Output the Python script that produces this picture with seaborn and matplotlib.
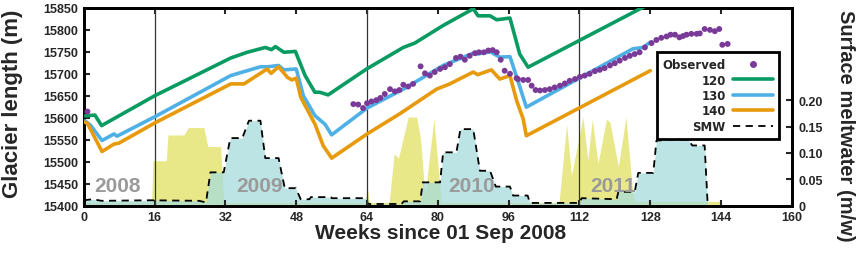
import numpy as np
import pandas as pd
import matplotlib
matplotlib.use("Agg")
import matplotlib.pyplot as plt
import seaborn as sns
from matplotlib.lines import Line2D

# --- modelled glacier length (m), three friction settings ---
wk_120 = [0.2, 2.5, 4, 16, 33.2, 36.9, 41, 42.4, 43.3, 45.2, 47.8, 50, 52.2, 53.3, 55.2,
          63.9, 72.2, 74.8, 81.2, 88, 89.1, 91.8, 93.3, 96.3, 98.5, 100.4, 125.7, 128]
len_120 = [15604, 15606, 15582, 15650, 15736, 15749, 15760, 15755, 15762, 15749, 15751, 15696,
           15658, 15658, 15652, 15711, 15760, 15770, 15810, 15848, 15832, 15832, 15823, 15827,
           15745, 15715, 15848, 15860]

wk_130 = [0.2, 1.5, 4.1, 6.8, 7.5, 16, 33.2, 39.9, 41.6, 44, 45.2, 48, 49.6, 52.2, 54.5, 56,
          64, 72.2, 81.2, 88, 88.9, 91.8, 94, 96.3, 98.1, 100, 124.1, 126.4, 128]
len_130 = [15593, 15583, 15548, 15563, 15558, 15602, 15696, 15716, 15716, 15719, 15709, 15711,
           15650, 15605, 15585, 15561, 15622, 15665, 15719, 15747, 15745, 15750, 15738, 15739,
           15684, 15624, 15757, 15760, 15772]

wk_140 = [0.2, 0.8, 4.1, 6.8, 7.9, 16, 33.2, 36.2, 41.4, 42.3, 44, 46, 47, 48, 49, 52.2, 54.1,
          56, 64, 71.4, 79.7, 82.7, 88, 89, 92.1, 94, 96.3, 97.8, 99.3, 100, 128]
len_140 = [15590, 15587, 15523, 15540, 15542, 15588, 15677, 15677, 15711, 15701, 15716, 15692,
           15686, 15690, 15647, 15586, 15536, 15508, 15563, 15609, 15665, 15677, 15704, 15698,
           15709, 15688, 15696, 15639, 15597, 15559, 15707]

# --- observed terminus positions ---
obs_wk = [0.8, 60.9, 62.0, 63.1, 64.0, 65.0, 66.1, 67.0, 68.0, 69.2, 70.3, 71.3, 72.2, 73.3,
          74.4, 76.1, 77.1, 78.2, 79.3, 80.5, 81.6, 82.7, 84.1, 85.1, 86.1, 87.2, 88.4, 89.3,
          90.4, 91.4, 92.4, 93.3, 94.2, 95.1, 96.3, 97.8, 98.1, 99.3, 100.4, 101.2, 102.1,
          103.1, 104.2, 105.3, 106.4, 107.6, 108.7, 109.8, 111.0, 112.1, 113.2, 114.3, 115.5,
          116.6, 117.7, 118.9, 120.0, 121.1, 122.3, 123.4, 124.5, 125.6, 126.8, 128.3, 129.4,
          130.5, 131.7, 132.6, 133.6, 134.6, 135.4, 136.2, 137.3, 138.5, 139.2, 140.3, 141.5,
          142.6, 143.6, 144.3, 145.5]
obs_len = [15614, 15631, 15630, 15622, 15633, 15637, 15640, 15645, 15654, 15665, 15660, 15663,
           15675, 15671, 15677, 15717, 15701, 15696, 15704, 15711, 15715, 15722, 15736, 15739,
           15732, 15741, 15747, 15749, 15749, 15753, 15754, 15749, 15732, 15707, 15700, 15690,
           15688, 15686, 15686, 15673, 15663, 15662, 15663, 15665, 15669, 15673, 15678, 15684,
           15688, 15693, 15696, 15700, 15706, 15709, 15713, 15719, 15724, 15730, 15736, 15741,
           15745, 15749, 15760, 15770, 15777, 15782, 15785, 15789, 15789, 15783, 15786, 15789,
           15791, 15791, 15792, 15802, 15800, 15797, 15802, 15766, 15768]

# --- yellow series (right axis, m/w) ---
yel_wk = [0, 15.3, 15.6, 18.6, 19.0, 22.6, 23.6, 27.1, 28.0, 30.9, 31.6, 63.6, 64.0, 64.5,
          69.0, 70.1, 71.1, 73.3, 75.2, 76.1, 77.1, 79.1, 80.8, 107.4, 109.1, 110.2, 112.8,
          113.9, 114.9, 116.2, 118.1, 118.9, 120.8, 122.5, 124.1, 124.6, 143.7, 144]
yel_val = [0.006, 0.006, 0.085, 0.085, 0.134, 0.134, 0.148, 0.148, 0.112, 0.112, 0.006,
           0.006, 0.038, 0.006, 0.006, 0.098, 0.090, 0.168, 0.168, 0.126, 0.019, 0.164,
           0.006, 0.006, 0.155, 0.057, 0.168, 0.087, 0.164, 0.080, 0.164, 0.158, 0.074,
           0.168, 0.020, 0.008, 0.008, 0.0]

# --- surface meltwater SMW (right axis, m/w) ---
smw_wk = [0, 2, 4, 15, 26, 27.6, 28.6, 31.6, 33.1, 35.8, 37.3, 39.9, 41, 44, 45.4, 47.9, 49,
          51, 51.3, 55.8, 56, 63.8, 64.2, 71.8, 72.3, 76, 76.6, 80.5, 81.2, 84.2, 85.1, 88,
          89.5, 91.8, 93.1, 96.3, 97, 100.3, 100.8, 112, 112.5, 120.4, 120.8, 124.5, 125.3,
          128.7, 129.4, 132, 136.6, 137.5, 140.3, 141]
smw_val = [0.010, 0.012, 0.009, 0.010, 0.009, 0.006, 0.063, 0.063, 0.128, 0.128, 0.161, 0.161,
           0.090, 0.090, 0.033, 0.033, 0.012, 0.012, 0.016, 0.016, 0.014, 0.014, 0.003, 0.003,
           0.008, 0.008, 0.044, 0.044, 0.101, 0.101, 0.145, 0.145, 0.066, 0.066, 0.036, 0.036,
           0.019, 0.019, 0.005, 0.005, 0.014, 0.012, 0.026, 0.026, 0.062, 0.062, 0.123, 0.125,
           0.125, 0.114, 0.114, 0.0]

year_labels = ["2008", "2009", "2010", "2011"]
year_pos = [7.7, 39.7, 87.6, 119.6]
season_lines = [16, 64, 112]

GREEN, BLUE, ORANGE, PURPLE = "#0a9b63", "#4fb0e6", "#e69a0c", "#7a3a98"

sns.set_style("ticks")
plt.rcParams["font.family"] = ["Liberation Sans", "DejaVu Sans"]
plt.rcParams["font.weight"] = "bold"

fig, ax = plt.subplots(figsize=(8.56, 2.55), dpi=100)
fig.subplots_adjust(left=0.098, right=0.925, bottom=0.19, top=0.965)
ax2 = ax.twinx()
ax.set_zorder(ax2.get_zorder() + 1)
ax.patch.set_visible(False)

# meltwater fills on the right axis
ax2.fill_between(yel_wk, yel_val, 0, color="#e6e474", alpha=0.85, lw=0)
ax2.fill_between(smw_wk, smw_val, 0, color="#a6dcdc", alpha=0.75, lw=0)
sns.lineplot(x=smw_wk, y=smw_val, ax=ax2, color="black", lw=1.3, linestyle=(0, (4, 3)),
             sort=False)
ax2.set_ylim(0, 0.375)
ax2.set_yticks([0, 0.05, 0.10, 0.15, 0.20])
ax2.set_yticklabels(["0", "0.05", "0.10", "0.15", "0.20"])
ax2.set_ylabel("Surface meltwater (m/w)", fontsize=14.5, fontweight="bold", rotation=270,
               ha="center", va="center")
ax2.yaxis.set_label_coords(1.076, 0.41)

# year labels and season separators
for txt, xp in zip(year_labels, year_pos):
    ax.text(xp, 15445, txt, ha="center", va="center", fontsize=15, fontweight="bold",
            color="#9a9a9a", zorder=1)
for s in season_lines:
    ax.axvline(s, color="#333333", lw=0.9, zorder=1)

sns.lineplot(x=wk_120, y=len_120, ax=ax, color=GREEN, lw=2.6, sort=False, zorder=3)
sns.lineplot(x=wk_130, y=len_130, ax=ax, color=BLUE, lw=2.6, sort=False, zorder=3)
sns.lineplot(x=wk_140, y=len_140, ax=ax, color=ORANGE, lw=2.6, sort=False, zorder=3)
sns.scatterplot(x=obs_wk, y=obs_len, ax=ax, color=PURPLE, s=18, edgecolor="none", zorder=4)

ax.set_xlim(0, 160)
ax.set_ylim(15400, 15850)
ax.set_xticks(np.arange(0, 161, 16))
ax.set_yticks(np.arange(15400, 15851, 50))
ax.set_xlabel("Weeks since 01 Sep 2008", fontsize=15, fontweight="bold", va="center")
ax.xaxis.set_label_coords(0.504, -0.134)
ax.set_ylabel("Glacier length (m)", fontsize=16, fontweight="bold", va="center")
ax.yaxis.set_label_coords(-0.101, 0.52)

for a in (ax, ax2):
    for sp in a.spines.values():
        sp.set_linewidth(2)
        sp.set_color("black")
    a.tick_params(direction="in", length=4, width=1.5, labelsize=9)
    for lab in a.get_xticklabels() + a.get_yticklabels():
        lab.set_fontweight("bold")
ax.tick_params(axis="x", top=True, pad=4)
ax.tick_params(axis="y", pad=4)
ax2.tick_params(axis="y", pad=5)

handles = [
    Line2D([], [], marker="o", color=PURPLE, ls="none", markersize=4),
    Line2D([], [], color=GREEN, lw=2.6),
    Line2D([], [], color=BLUE, lw=2.6),
    Line2D([], [], color=ORANGE, lw=2.6),
    Line2D([], [], color="black", lw=1.3, ls=(0, (4, 3))),
]
leg = ax.legend(handles, ["Observed", "120", "130", "140", "SMW"], loc="upper right",
                bbox_to_anchor=(0.99, 0.805), markerfirst=False, fancybox=False,
                framealpha=1, edgecolor="black", handlelength=3.4, labelspacing=0.2,
                borderpad=0.5, handletextpad=0.6,
                prop={"family": "DejaVu Sans", "weight": "bold", "size": 8.5})
leg.get_frame().set_linewidth(2)

plt.savefig("out.png", dpi=100)
plt.close()
